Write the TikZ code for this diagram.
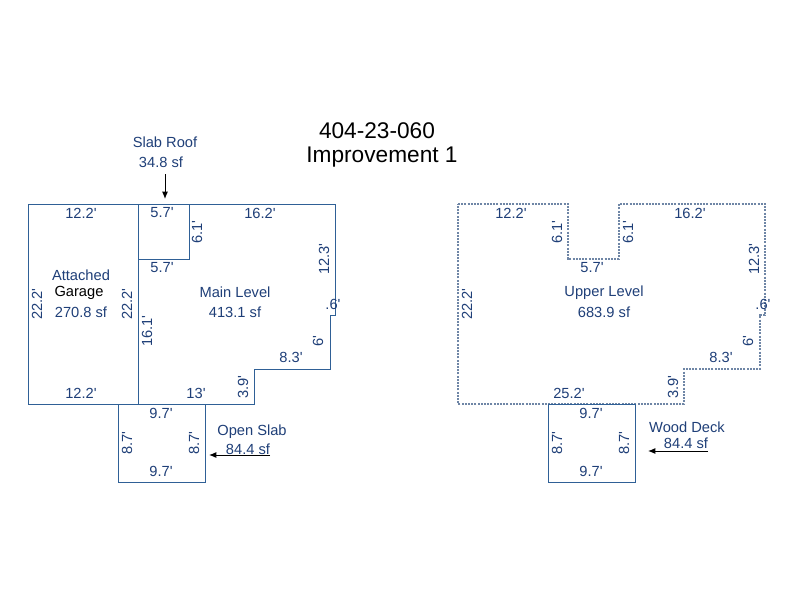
\documentclass[tikz,border=0pt]{standalone}
\usepackage{fontspec}
\setmainfont{Liberation Sans}[Ligatures=TeXOff]
\usetikzlibrary{arrows.meta}
\definecolor{lineblue}{HTML}{2F6096}
\definecolor{dotblue}{HTML}{6F86A6}
\definecolor{textblue}{HTML}{1F3F78}
\tikzset{
  x=0.75pt,y=-0.75pt,
  wall/.style={draw=lineblue,line width=0.75pt,line join=miter},
  dotwall/.style={draw=dotblue,line width=0.8pt,dash pattern=on 1.5pt off 0.9pt},
  lbl/.style={text=textblue,font=\fontsize{11}{13}\selectfont,inner sep=0pt,align=center},
  vlbl/.style={lbl,rotate=90},
  ttl/.style={text=black,font=\fontsize{17}{20}\selectfont,inner sep=0pt},
  ptr/.style={draw=black,line width=0.75pt,-{Latex[length=5.5pt,width=4.5pt]}}
}
\begin{document}
\begin{tikzpicture}
\useasboundingbox (0,0) rectangle (800,600);
\fill[white] (0,0) rectangle (800,600);
% Left plan
\draw[wall] (28,204) -- (335,204) -- (335,315) -- (330,315) -- (330,369) -- (254,369) -- (254,404) -- (28,404) -- cycle;
\draw[wall] (138,204) -- (138,404);
\draw[wall] (138,204) -- (189,204) -- (189,259) -- (138,259);
\draw[wall] (118,404) rectangle (205,482);
% Right plan
\draw[dotwall] (458,204) -- (568,204) -- (568,259) -- (619,259) -- (619,204) -- (765,204) -- (765,315) -- (760,315) -- (760,369) -- (684,369) -- (684,404) -- (458,404) -- cycle;
\draw[wall] (548,404) rectangle (635,482);
% Titles
\node[ttl] (t1) at (377,131) {404-23-060};
\node[ttl] (t2) at (382,157) {Improvement 1};
% Left labels
\node[lbl] (sr1) at (165,142) {Slab Roof};
\node[lbl] (sr2) at (161,162) {34.8 sf};
\coordinate (srtop) at (165,174);
\coordinate (srend) at (165,199);
\draw[ptr] (srtop) -- (srend);
\node[lbl] (a1) at (81,213) {12.2'};
\node[lbl] (a2) at (162,213) {5.7'};
\node[lbl] (a3) at (260,213) {16.2'};
\node[vlbl] (a4) at (197,232) {6.1'};
\node[lbl] (a5) at (162,268) {5.7'};
\node[vlbl] (a6) at (324,259) {12.3'};
\node[lbl] (a7) at (333,304) {.6'};
\node[lbl] (g1) at (81,275) {Attached};
\node[lbl,text=black] (g2) at (79,293) {Garage};
\node[lbl] (g3) at (81,312) {270.8 sf};
\node[vlbl] (a8) at (37,304) {22.2'};
\node[vlbl] (a9) at (127,304) {22.2'};
\node[lbl] (m1) at (235,292) {Main Level};
\node[lbl] (m2) at (235,312) {413.1 sf};
\node[vlbl] (a10) at (147,331) {16.1'};
\node[vlbl] (a11) at (318,341) {6'};
\node[lbl] (a12) at (291,357) {8.3'};
\node[vlbl] (a13) at (243,387) {3.9'};
\node[lbl] (a14) at (196,393) {13'};
\node[lbl] (a15) at (81,393) {12.2'};
\node[lbl] (o1) at (161,413) {9.7'};
\node[vlbl] (o2) at (127,443) {8.7'};
\node[vlbl] (o3) at (194,443) {8.7'};
\node[lbl] (o4) at (161,471) {9.7'};
\node[lbl] (o5) at (252,432) {Open Slab};
\node[lbl] (o6) at (248,449) {84.4 sf};
\coordinate (ostart) at (270,455);
\coordinate (oend) at (209,455);
\draw[ptr] (ostart) -- (oend);
% Right labels
\node[lbl] (b1) at (511,213) {12.2'};
\node[vlbl] (b2) at (557,232) {6.1'};
\node[vlbl] (b3) at (628,232) {6.1'};
\node[lbl] (b4) at (690,213) {16.2'};
\node[lbl] (b5) at (592,268) {5.7'};
\node[vlbl] (b6) at (754,259) {12.3'};
\node[lbl] (b7) at (763,304) {.6'};
\node[lbl] (u1) at (604,293) {Upper Level};
\node[lbl] (u2) at (604,312) {683.9 sf};
\node[vlbl] (b8) at (467,304) {22.2'};
\node[vlbl] (b9) at (748,341) {6'};
\node[lbl] (b10) at (721,357) {8.3'};
\node[vlbl] (b11) at (673,387) {3.9'};
\node[lbl] (b12) at (569,393) {25.2'};
\node[lbl] (d1) at (591,413) {9.7'};
\node[vlbl] (d2) at (557,443) {8.7'};
\node[vlbl] (d3) at (624,443) {8.7'};
\node[lbl] (d4) at (591,471) {9.7'};
\node[lbl] (d5) at (687,427) {Wood Deck};
\node[lbl] (d6) at (686,443) {84.4 sf};
\coordinate (dstart) at (708,451);
\coordinate (dend) at (648,451);
\draw[ptr] (dstart) -- (dend);
\end{tikzpicture}
\end{document}
